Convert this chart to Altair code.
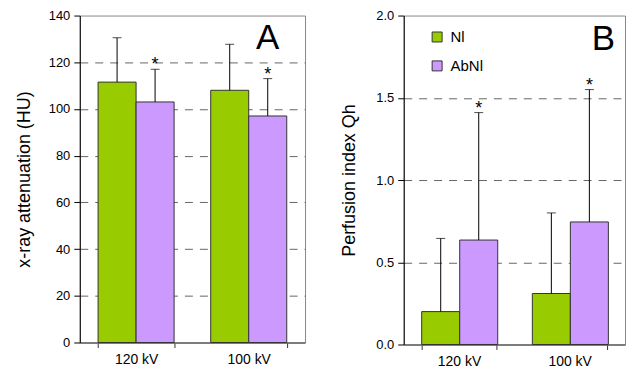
import altair as alt
import pandas as pd

FONT = "Liberation Sans"

categories = ["120 kV", "100 kV"]
groups = ["Nl", "AbNl"]
colors = ["#99CC00", "#CC99FF"]
signif = ["", "*"]

# Panel A: x-ray attenuation (HU)
a_nl = [111.5, 108.0]
a_abnl = [103.0, 97.0]
a_nl_hi = [130.5, 127.7]
a_abnl_hi = [117.0, 113.0]
a_ticks = [0, 20, 40, 60, 80, 100, 120, 140]

# Panel B: perfusion index Qh
b_nl = [0.20, 0.31]
b_abnl = [0.635, 0.745]
b_nl_hi = [0.645, 0.80]
b_abnl_hi = [1.41, 1.55]
b_ticks = [0.0, 0.5, 1.0, 1.5, 2.0]


def frame(nl, abnl, nl_hi, abnl_hi):
    rows = []
    for i, c in enumerate(categories):
        rows.append(dict(cat=c, grp=groups[0], val=nl[i], hi=nl_hi[i], star=signif[0]))
        rows.append(dict(cat=c, grp=groups[1], val=abnl[i], hi=abnl_hi[i], star=signif[1]))
    return pd.DataFrame(rows)


def panel(df, ytitle, ticks, fmt, w, h, tpad, letter, letter_y, letter_dx, legend):
    dmax = ticks[-1]
    x = alt.X(
        "cat:N", sort=categories, title=None,
        scale=alt.Scale(paddingInner=0.325, paddingOuter=0.1625),
        axis=alt.Axis(labelAngle=0, tickBand="extent", labelFontSize=14,
                      labelFont=FONT, labelColor="black", labelPadding=5,
                      domainColor="#666", domainWidth=1.5, tickColor="#333",
                      tickSize=5, grid=False),
    )
    xo = alt.XOffset("grp:N", sort=groups,
                     scale=alt.Scale(paddingInner=0, paddingOuter=0))
    y = alt.Y(
        "val:Q", title=ytitle,
        scale=alt.Scale(domain=[0, dmax], nice=False),
        axis=alt.Axis(values=ticks, format=fmt, labelFontSize=13, labelFont=FONT,
                      labelColor="black", labelPadding=4, tickSize=6,
                      domainColor="black", tickColor="black",
                      titleFont=FONT, titleFontSize=18, titleFontWeight="normal",
                      titleColor="black", titlePadding=tpad,
                      grid=True, gridColor="#666", gridDash=[8, 7],
                      gridOpacity=alt.condition(
                          f"datum.value <= 0 || datum.value >= {dmax}",
                          alt.value(0), alt.value(1))),
    )
    color = alt.Color("grp:N", sort=groups,
                      scale=alt.Scale(domain=groups, range=colors),
                      legend=legend)
    base = alt.Chart(df)
    bars = base.mark_bar(stroke="#333", strokeWidth=1).encode(x=x, xOffset=xo, y=y, color=color)
    rule = base.mark_rule(color="black", strokeWidth=1).encode(
        x=x, xOffset=xo, y=alt.Y("val:Q"), y2="hi:Q")
    cap = base.mark_tick(color="black", thickness=1, size=9).encode(
        x=x, xOffset=xo, y=alt.Y("hi:Q"))
    star = base.transform_filter("datum.star != ''").mark_text(
        font=FONT, fontSize=18, baseline="alphabetic", dy=1, color="black"
    ).encode(x=x, xOffset=xo, y=alt.Y("hi:Q"), text="star:N")
    ldf = pd.DataFrame([dict(cat=categories[1], grp=groups[1], val=letter_y, t=letter)])
    let = alt.Chart(ldf).mark_text(
        font=FONT, fontSize=35, baseline="alphabetic", dx=letter_dx, color="black"
    ).encode(x=x, xOffset=xo, y=alt.Y("val:Q"), text="t:N")
    return alt.layer(bars, rule, cap, star, let).properties(width=w, height=h)


dfA = frame(a_nl, a_abnl, a_nl_hi, a_abnl_hi)
dfB = frame(b_nl, b_abnl, b_nl_hi, b_abnl_hi)

legendB = alt.Legend(title=None, orient="none", legendX=26, legendY=14,
                     symbolType="square", symbolSize=100,
                     symbolStrokeColor="#333", symbolStrokeWidth=1,
                     labelFont=FONT, labelFontSize=15, labelColor="black",
                     rowPadding=13, padding=0, labelOffset=6)

chartA = panel(dfA, "x-ray attenuation (HU)", a_ticks, "d", 226, 328, 15, "A", 125.8, 0, None)
chartB = panel(dfB, "Perfusion index Qh", b_ticks, ".1f", 222, 330, 17, "B", 1.79, 14, legendB)

chart = alt.hconcat(chartA, chartB, spacing=34).resolve_scale(
    color="independent", y="independent"
).properties(
    padding={"left": 6, "top": 0, "right": 0, "bottom": 0}
).configure_view(stroke="#888", strokeWidth=1)

chart.save("out.html", embed_options={"renderer": "svg", "actions": False})
